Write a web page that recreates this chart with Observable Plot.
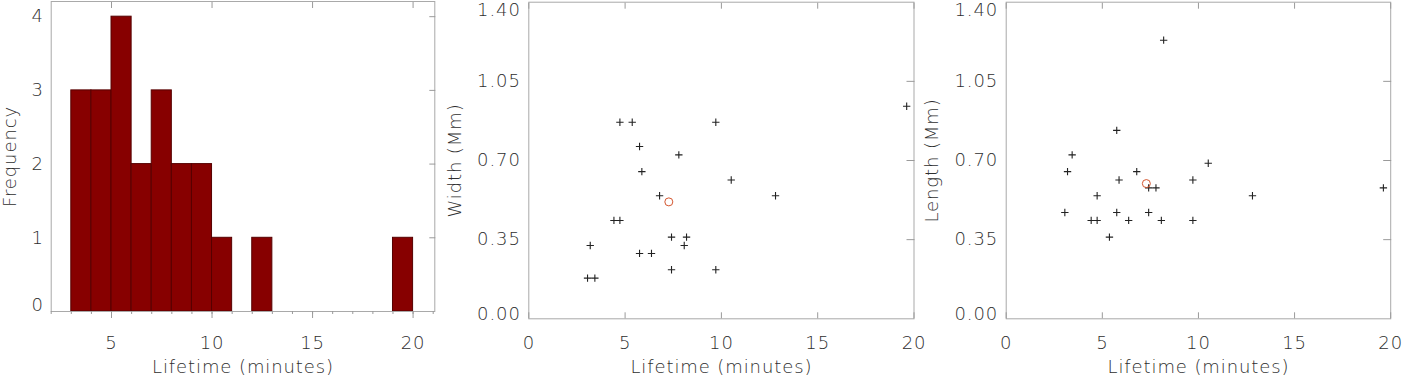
<!DOCTYPE html>
<html><head><meta charset="utf-8">
<script src="https://cdn.jsdelivr.net/npm/d3@7"></script>
<script src="https://cdn.jsdelivr.net/npm/@observablehq/plot@0.6"></script>
<style>
html,body{margin:0;padding:0;background:#fff;}
#wrap{position:relative;width:1403px;height:378px;overflow:hidden;background:#fff;}
#wrap svg{position:absolute;top:0;}
#wrap svg text{letter-spacing:0.9px;}
</style></head><body><div id="wrap"></div>
<script>
// ---- data ----
const lifetime = [3.05,3.19,3.43,4.42,4.73,4.73,5.37,5.75,5.75,5.87,6.37,6.79,7.41,7.41,7.79,8.07,8.19,9.71,9.71,10.51,12.81,19.62];
const widthMm  = [0.180,0.324,0.180,0.435,0.869,0.435,0.869,0.762,0.289,0.651,0.289,0.544,0.361,0.217,0.725,0.324,0.361,0.869,0.217,0.614,0.544,0.940];
const lengthMm = [0.470,0.651,0.725,0.435,0.544,0.435,0.361,0.833,0.470,0.614,0.435,0.651,0.579,0.470,0.579,0.435,1.232,0.614,0.435,0.688,0.544,0.579];
const meanLifetime = [7.27, 7.29];   // [width panel, length panel]
const meanValue    = [0.517, 0.598];
const binStart = [3,4,5,6,7,8,9,10,11,12,13,14,15,16,17,18,19];
const binCount = [3,3,4,2,3,2,2,1,0,1,0,0,0,0,0,0,1];
const histXTicks = [5,10,15,20];
const histXMinor = [2,3,4,5,6,7,8,9,10,11,12,13,14,15,16,17,18,19,20,21];
const histYTicks = [0,1,2,3,4];
const scXTicks = [0,5,10,15,20];
const scYTicks = [0,0.35,0.70,1.05,1.40];

const frameC = "#a9a9a9", tickC = "#9a9a9a", textC = "#2e2e2e";
const baseStyle = {fontFamily: "'DejaVu Sans', sans-serif", fontSize: "18px", fontWeight: 200,
  color: textC, background: "transparent", overflow: "visible"};
const wrap = document.getElementById("wrap");

function place(svg, left) { svg.style.left = left + "px"; wrap.appendChild(svg); }

// ---- Panel 1: histogram ----
{
  const bins = binStart.map((s, i) => ({x1: s, x2: s + 1, n: binCount[i]})).filter(d => d.n > 0);
  const mL = 50.7, mB = 67;
  const p = Plot.plot({
    width: 440, height: 378, marginLeft: mL, marginRight: 5.7, marginTop: 1, marginBottom: mB,
    x: {domain: [2, 21.08], label: null}, y: {domain: [0, 4.206], label: null},
    style: baseStyle,
    marks: [
      Plot.rect(bins, {x1: "x1", x2: "x2", y1: 0, y2: "n", fill: "#870000", stroke: "#560000", strokeWidth: 1}),
      Plot.frame({stroke: frameC}),
      Plot.axisX({anchor: "bottom", ticks: histXMinor, tickSize: 3, text: null, stroke: tickC, label: null}),
      Plot.axisX({anchor: "bottom", ticks: histXTicks, tickSize: 7, text: null, stroke: tickC, label: null}),
      Plot.axisX({anchor: "top", ticks: histXTicks, tickSize: 6, dy: 6, text: null, stroke: tickC, label: null}),
      Plot.axisX({anchor: "bottom", ticks: histXTicks, tickSize: 0, tickPadding: 24.5, tickFormat: d => String(d), label: null}),
      Plot.axisY({anchor: "right", ticks: histYTicks.slice(1), tickSize: 6, dx: -6, text: null, stroke: tickC, label: null}),
      Plot.axisY({anchor: "left", ticks: histYTicks.slice(1), tickSize: 0, tickPadding: 7.4, tickFormat: d => String(d), label: null}),
      Plot.axisY({anchor: "left", ticks: histYTicks.slice(0, 1), tickSize: 0, tickPadding: 7.4, dy: -6, tickFormat: d => String(d), label: null}),
      Plot.text(["Lifetime (minutes)"], {frameAnchor: "bottom", dy: 56, lineAnchor: "middle", textAnchor: "middle", text: d => d}),
      Plot.text(["Frequency"], {frameAnchor: "left", rotate: -90, dx: -(mL - 9.5), lineAnchor: "middle", textAnchor: "middle", text: d => d})
    ]
  });
  place(p, 0);
}

// ---- Panels 2 & 3: scatter ----
function scatter(left, svgW, mL, mR, yVals, k, title, titleX) {
  const mT = 1.7, mB = 378 - 318.3;
  const pts = lifetime.map((t, i) => ({t, v: yVals[i]}));
  const mean = [{t: meanLifetime[k], v: meanValue[k]}];
  const fmt = d => d.toFixed(2);
  const p = Plot.plot({
    width: svgW, height: 378, marginLeft: mL, marginRight: mR, marginTop: mT, marginBottom: mB,
    x: {domain: [0, 20], label: null}, y: {domain: [0, 1.4], label: null},
    style: baseStyle,
    marks: [
      Plot.frame({stroke: frameC}),
      Plot.axisX({anchor: "bottom", ticks: scXTicks, tickSize: 6, dy: -6, text: null, stroke: tickC, label: null}),
      Plot.axisX({anchor: "top", ticks: scXTicks, tickSize: 6, dy: 6, text: null, stroke: tickC, label: null}),
      Plot.axisX({anchor: "bottom", ticks: scXTicks, tickSize: 0, tickPadding: 17.2, tickFormat: d => String(d), label: null}),
      Plot.axisY({anchor: "right", ticks: scYTicks.slice(1, -1), tickSize: 8, dx: -8, text: null, stroke: tickC, label: null}),
      Plot.axisY({anchor: "left", ticks: scYTicks.slice(1, -1), tickSize: 0, tickPadding: 8, tickFormat: fmt, label: null}),
      Plot.axisY({anchor: "left", ticks: scYTicks.slice(0, 1), tickSize: 0, tickPadding: 8, dy: -5, tickFormat: fmt, label: null}),
      Plot.axisY({anchor: "left", ticks: scYTicks.slice(-1), tickSize: 0, tickPadding: 8, dy: 8, tickFormat: fmt, label: null}),
      Plot.text(["Lifetime (minutes)"], {frameAnchor: "bottom", dy: 48.7, lineAnchor: "middle", textAnchor: "middle", text: d => d}),
      Plot.text([title], {frameAnchor: "left", rotate: -90, dx: -(mL - titleX), lineAnchor: "middle", textAnchor: "middle", text: d => d}),
      Plot.dot(pts, {x: "t", y: "v", symbol: "plus", r: 2.5, stroke: "#222", strokeWidth: 1.1}),
      Plot.dot(mean, {x: "t", y: "v", r: 4, stroke: "#d4562f", strokeWidth: 1, fill: "none"})
    ]
  });
  place(p, left);
}
scatter(440, 480, 88.3, 6.5, widthMm, 0, "Width (Mm)", 14.5);
scatter(920, 483, 85.7, 12.8, lengthMm, 1, "Length (Mm)", 11.5);
</script></body></html>
